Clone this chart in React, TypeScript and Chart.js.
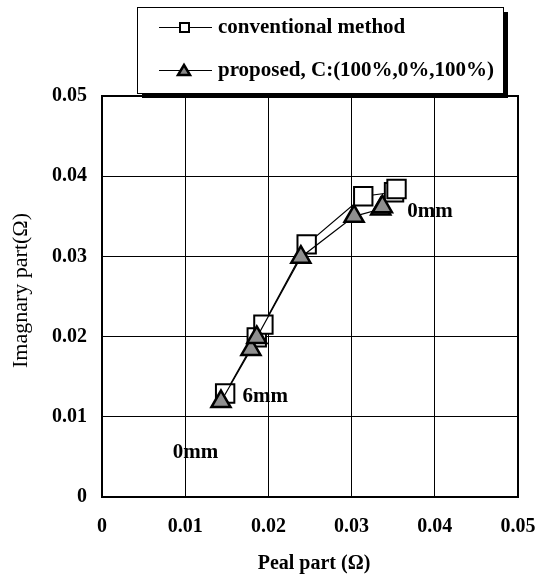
import React, { useEffect, useRef } from "react";
import { Chart, registerables } from "chart.js";

Chart.register(...registerables);

// ---- data ----
const seriesNames = ["conventional method", "proposed, C:(100%,0%,100%)"];
const conventionalReal = [0.0148, 0.0186, 0.0194, 0.0246, 0.0314, 0.0351, 0.0354];
const conventionalImag = [0.0129, 0.0199, 0.0215, 0.0315, 0.0375, 0.038, 0.0384];
const proposedReal = [0.0143, 0.0179, 0.0186, 0.0239, 0.0303, 0.0335, 0.0337];
const proposedImag = [0.0119, 0.0184, 0.0199, 0.0299, 0.035, 0.0359, 0.0362];
const tickValues = [0, 0.01, 0.02, 0.03, 0.04, 0.05];
const xTitle = "Peal part (Ω)";
const yTitle = "Imagnary part(Ω)";
const noteTexts = ["6mm", "0mm", "0mm"];
const noteReal = [0.0169, 0.0367, 0.0085];
const noteImag = [0.0125, 0.0356, 0.0056];

const SERIF = '"Liberation Serif", "Times New Roman", serif';
const fmt = (v: number) => (v === 0 ? "0" : v.toFixed(2));

export default function App() {
  const ref = useRef<HTMLCanvasElement | null>(null);

  useEffect(() => {
    document.body.style.margin = "0";
    const canvas = ref.current;
    if (!canvas) return;

    const decor = {
      id: "decor",
      afterDraw(chart: any) {
        const ctx = chart.ctx;
        const a = chart.chartArea;
        const xs = chart.scales.x;
        const ys = chart.scales.y;
        ctx.save();
        // plot frame
        ctx.strokeStyle = "#000";
        ctx.lineWidth = 2;
        ctx.strokeRect(a.left, a.top, a.right - a.left, a.bottom - a.top);

        // annotations
        ctx.fillStyle = "#000";
        ctx.font = `bold 21px ${SERIF}`;
        ctx.textBaseline = "middle";
        ctx.textAlign = "left";
        noteTexts.forEach((t, i) => {
          ctx.fillText(t, xs.getPixelForValue(noteReal[i]), ys.getPixelForValue(noteImag[i]));
        });

        // axis titles
        ctx.font = `bold 20px ${SERIF}`;
        ctx.textAlign = "center";
        ctx.fillText(xTitle, (a.left + a.right) / 2 + 4, 564);
        ctx.save();
        ctx.font = `22px ${SERIF}`;
        ctx.translate(21, (a.top + a.bottom) / 2 - 6);
        ctx.rotate(-Math.PI / 2);
        ctx.fillText(yTitle, 0, 0);
        ctx.restore();

        // legend
        const bx = 137, by = 7, bw = 366, bh = 86;
        ctx.fillStyle = "#000";
        ctx.fillRect(bx + 5, by + 5, bw, bh);
        ctx.fillStyle = "#fff";
        ctx.fillRect(bx, by, bw, bh);
        ctx.lineWidth = 1;
        ctx.strokeStyle = "#000";
        ctx.strokeRect(bx + 0.5, by + 0.5, bw, bh);
        const rows = [27, 70];
        ctx.font = `bold 21px ${SERIF}`;
        ctx.textAlign = "left";
        chart.data.datasets.forEach((ds: any, i: number) => {
          const y = rows[i];
          ctx.beginPath();
          ctx.moveTo(159, y + 0.5);
          ctx.lineTo(212, y + 0.5);
          ctx.lineWidth = 1;
          ctx.strokeStyle = "#000";
          ctx.stroke();
          if (i === 0) {
            ctx.fillStyle = "#fff";
            ctx.fillRect(180, y - 4, 9, 9);
            ctx.lineWidth = 2;
            ctx.strokeRect(180, y - 4, 9, 9);
          } else {
            ctx.beginPath();
            ctx.moveTo(184, y - 5);
            ctx.lineTo(190, y + 5);
            ctx.lineTo(178, y + 5);
            ctx.closePath();
            ctx.fillStyle = "#888";
            ctx.fill();
            ctx.lineWidth = 2.5;
            ctx.stroke();
          }
          ctx.fillStyle = "#000";
          ctx.fillText(ds.label, 218, y + 1);
        });
        ctx.restore();
      },
    };

    const chart = new Chart(canvas, {
      type: "scatter",
      data: {
        datasets: [
          {
            label: seriesNames[0],
            data: conventionalReal.map((x, i) => ({ x, y: conventionalImag[i] })),
            showLine: true,
            borderColor: "#000",
            borderWidth: 1.2,
            pointStyle: "rect",
            pointRadius: 13,
            pointBackgroundColor: "#fff",
            pointBorderColor: "#000",
            pointBorderWidth: 2,
            order: 1,
          },
          {
            label: seriesNames[1],
            data: proposedReal.map((x, i) => ({ x, y: proposedImag[i] })),
            showLine: true,
            borderColor: "#000",
            borderWidth: 1.2,
            pointStyle: "triangle",
            pointRadius: 11,
            pointBackgroundColor: "#8f8f8f",
            pointBorderColor: "#000",
            pointBorderWidth: 2.5,
            order: 0,
          },
        ],
      },
      options: {
        responsive: false,
        animation: false,
        layout: { padding: { top: 96, right: 29, left: 0, bottom: 0 } },
        plugins: { legend: { display: false }, tooltip: { enabled: false } },
        scales: {
          x: {
            type: "linear",
            min: 0,
            max: 0.05,
            afterBuildTicks: (s: any) => {
              s.ticks = tickValues.map((v) => ({ value: v }));
            },
            afterFit: (s: any) => {
              s.height = 80;
              s.paddingLeft = 0;
              s.paddingRight = 0;
            },
            ticks: {
              callback: (v: any) => fmt(Number(v)),
              color: "#000",
              font: { family: SERIF, size: 20, weight: "bold" },
              padding: 18,
              maxRotation: 0,
            },
            grid: { color: "#000", lineWidth: 1, drawTicks: false },
            border: { display: true, color: "#000", width: 2 },
          },
          y: {
            type: "linear",
            min: 0,
            max: 0.05,
            afterBuildTicks: (s: any) => {
              s.ticks = tickValues.map((v) => ({ value: v }));
            },
            afterFit: (s: any) => {
              s.width = 102;
              s.paddingTop = 0;
              s.paddingBottom = 0;
            },
            ticks: {
              callback: (v: any) => fmt(Number(v)),
              color: "#000",
              font: { family: SERIF, size: 20, weight: "bold" },
              padding: 15,
            },
            grid: { color: "#000", lineWidth: 1, drawTicks: false },
            border: { display: true, color: "#000", width: 2 },
          },
        },
      },
      plugins: [decor],
    } as any);

    return () => chart.destroy();
  }, []);

  return (
    <div style={{ width: 547, height: 577 }}>
      <canvas ref={ref} width={547} height={577} style={{ display: "block" }} />
    </div>
  );
}
